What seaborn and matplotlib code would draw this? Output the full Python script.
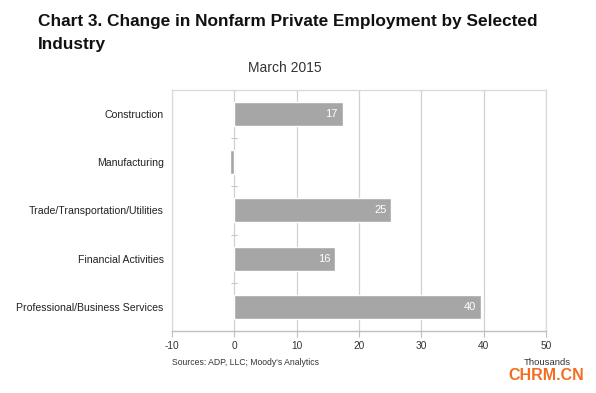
import numpy as np
import pandas as pd
import matplotlib
matplotlib.use("Agg")
import matplotlib.pyplot as plt
import seaborn as sns

# Dados do gráfico (milhares de empregos, março 2015)
industries = ["Construction", "Manufacturing", "Trade/Transportation/Utilities",
              "Financial Activities", "Professional/Business Services"]
changes = [17.4, -0.7, 25.2, 16.2, 39.6]
value_labels = ["17", "", "25", "16", "40"]
x_ticks = [-10, 0, 10, 20, 30, 40, 50]

df = pd.DataFrame({"Industry": industries, "Change": changes})

sns.set_theme(style="white")
plt.rcParams["font.family"] = ["Liberation Sans", "DejaVu Sans"]

fig = plt.figure(figsize=(5.96, 3.93), dpi=100)
ax = fig.add_axes([0.2886, 0.158, 0.6275, 0.613])

sns.barplot(data=df, x="Change", y="Industry", orient="h", color="#a6a6a6",
            saturation=1, width=0.5, ax=ax)

ax.set_xlim(-10, 50)
ax.set_xticks(x_ticks)
ax.set_xticklabels([str(t) for t in x_ticks], fontsize=7.3, color="#333333")
ax.tick_params(axis="x", length=4, width=0.8, color="#bfbfbf", direction="out", pad=3, bottom=True)
ax.tick_params(axis="y", length=0, labelsize=7.6, labelcolor="#222222", pad=6)
ax.set_xlabel("")
ax.set_ylabel("")
ax.grid(axis="x", color="#d0d0d0", linewidth=0.9)
ax.set_axisbelow(True)
for side in ["top", "left", "right"]:
    ax.spines[side].set_color("#d9d9d9")
    ax.spines[side].set_linewidth(0.9)
ax.spines["bottom"].set_color("#bfbfbf")
ax.spines["bottom"].set_linewidth(1.0)

# Marcas pequenas no eixo zero entre categorias
sec = ax.secondary_yaxis(1 / 6)
sec.spines["left"].set_visible(False)
sec.set_yticks([])
sec.set_yticks([0.5, 1.5, 2.5, 3.5], minor=True)
sec.tick_params(which="minor", direction="inout", length=5, width=0.7, color="#bfbfbf")

# Rótulos de valor dentro das barras
for bar, lab in zip(ax.patches, value_labels):
    if lab:
        ax.text(bar.get_x() + bar.get_width() - 0.8, bar.get_y() + bar.get_height() / 2,
                lab, ha="right", va="center", color="white", fontsize=8)

fig.text(0.064, 0.965, "Chart 3. Change in Nonfarm Private Employment by Selected\nIndustry",
         fontsize=12.4, fontweight="bold", ha="left", va="top", linespacing=1.65, color="#111111")
fig.text(0.478, 0.826, "March 2015", fontsize=10, ha="center", va="center", color="#333333")
fig.text(0.289, 0.078, "Sources: ADP, LLC; Moody's Analytics", fontsize=6.2,
         ha="left", va="center", color="#333333")
fig.text(0.918, 0.078, "Thousands", fontsize=6.8, ha="center", va="center", color="#333333")
fig.text(0.917, 0.045, "CHRM.CN", fontsize=11.5, fontweight="bold", ha="center", va="center",
         color="#f26d21")

fig.savefig("out.png", dpi=100)
